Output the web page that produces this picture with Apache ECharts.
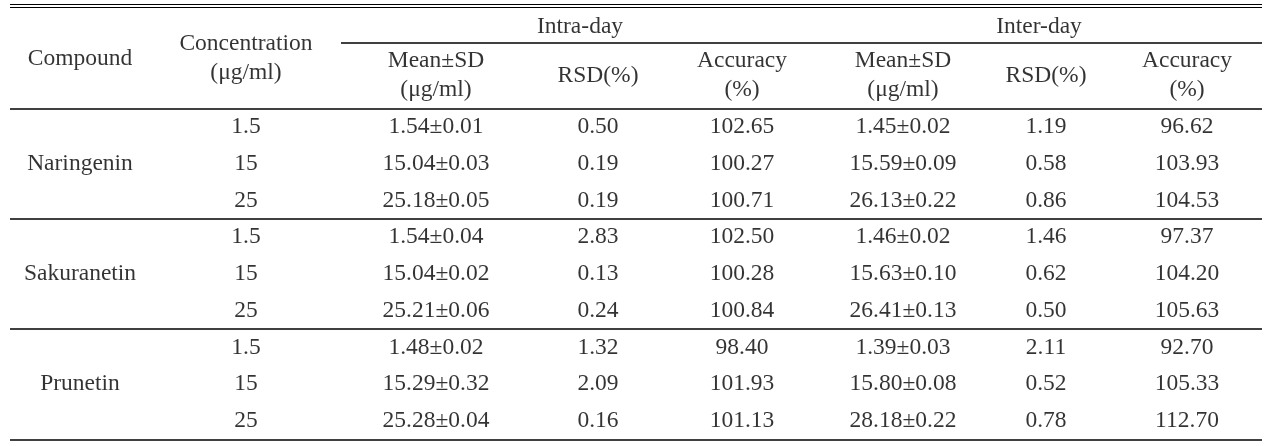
<!DOCTYPE html>
<html><head><meta charset="utf-8">
<script src="https://cdn.jsdelivr.net/npm/echarts@6/dist/echarts.min.js"></script>
<style>html,body{margin:0;padding:0;background:#fff}#c{width:1269px;height:446px}</style>
</head><body><div id="c"></div>
<script>
// ---- data ----
const compounds = ['Naringenin', 'Sakuranetin', 'Prunetin'];
const concentrations = ['1.5', '15', '25', '1.5', '15', '25', '1.5', '15', '25'];
const intraMeanSD = ['1.54±0.01', '15.04±0.03', '25.18±0.05', '1.54±0.04', '15.04±0.02', '25.21±0.06', '1.48±0.02', '15.29±0.32', '25.28±0.04'];
const intraRSD = ['0.50', '0.19', '0.19', '2.83', '0.13', '0.24', '1.32', '2.09', '0.16'];
const intraAccuracy = ['102.65', '100.27', '100.71', '102.50', '100.28', '100.84', '98.40', '101.93', '101.13'];
const interMeanSD = ['1.45±0.02', '15.59±0.09', '26.13±0.22', '1.46±0.02', '15.63±0.10', '26.41±0.13', '1.39±0.03', '15.80±0.08', '28.18±0.22'];
const interRSD = ['1.19', '0.58', '0.86', '1.46', '0.62', '0.50', '2.11', '0.52', '0.78'];
const interAccuracy = ['96.62', '103.93', '104.53', '97.37', '104.20', '105.63', '92.70', '105.33', '112.70'];
const groupHeaders = ['Intra-day', 'Inter-day'];
const columnHeaders = ['Compound', 'Concentration\n(μg/ml)', 'Mean±SD\n(μg/ml)', 'RSD(%)', 'Accuracy\n(%)', 'Mean±SD\n(μg/ml)', 'RSD(%)', 'Accuracy\n(%)'];

// ---- layout ----
const W = 1269, H = 446;
const colX = [80, 246, 436, 598, 742, 903, 1046, 1187];
const groupX = [580, 1039];
const tableLeft = 10, tableRight = 1262, groupLineLeft = 341;
const headerPx = 108.5, rowPx = 36.75;
const groupY = 26.5, mainHeaderY = 58.5, subHeaderY = 75.5, groupLineY = 42.5, topLines = [4.5, 7.5];
const toRow = px => (px - headerPx) / rowPx;
const rowsPerGroup = 3;
const nRows = concentrations.length;

const font = {fontFamily: 'Liberation Serif', fontSize: 23.5, color: '#000', lineHeight: 28.5};

// body cells
const bodyCols = [concentrations, intraMeanSD, intraRSD, intraAccuracy, interMeanSD, interRSD, interAccuracy];
const cellData = [];
bodyCols.forEach((col, ci) => col.forEach((v, ri) => cellData.push([colX[ci + 1], ri + 0.5, v])));
compounds.forEach((c, gi) => cellData.push([colX[0], gi * rowsPerGroup + rowsPerGroup / 2, c]));
// header cells
columnHeaders.forEach((h, ci) => cellData.push([colX[ci], toRow(ci < 2 ? mainHeaderY : subHeaderY), h]));
groupHeaders.forEach((g, gi) => cellData.push([groupX[gi], toRow(groupY), g]));

// rules
const hline = (x1, x2, y, w) => [{coord: [x1, y], lineStyle: {width: w}}, {coord: [x2, y]}];
const lines = [];
topLines.forEach(y => lines.push(hline(tableLeft, tableRight, toRow(y), 1.2)));
lines.push(hline(groupLineLeft, tableRight, toRow(groupLineY), 1.6));
for (let r = 0; r <= nRows; r += rowsPerGroup) lines.push(hline(tableLeft, tableRight, r, 1.6));

const chart = echarts.init(document.getElementById('c'), null, {renderer: 'canvas'});
chart.setOption({
  animation: false,
  backgroundColor: '#fff',
  grid: {left: 0, right: 0, top: 0, bottom: 0},
  xAxis: {type: 'value', min: 0, max: W, show: false},
  yAxis: {type: 'value', inverse: true, min: toRow(0), max: toRow(H), show: false},
  series: [
    {
      type: 'scatter', symbolSize: 0, silent: true, clip: false,
      data: cellData,
      label: Object.assign({show: true, position: 'inside', align: 'center', verticalAlign: 'middle',
        formatter: p => p.data[2]}, font)
    },
    {
      type: 'line', data: [], silent: true,
      markLine: {symbol: ['none', 'none'], silent: true, animation: false,
        label: {show: false},
        lineStyle: {color: '#000', type: 'solid', width: 1.6},
        emphasis: {disabled: true},
        data: lines}
    }
  ]
});
</script></body></html>
